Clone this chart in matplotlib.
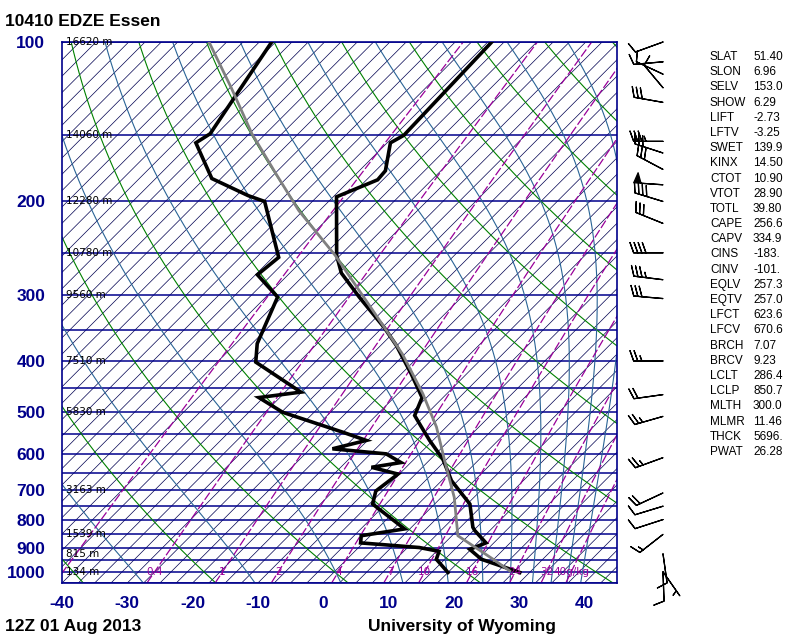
import numpy as np
import matplotlib
matplotlib.use('Agg')
import matplotlib.pyplot as plt
from matplotlib.ticker import NullLocator
import matplotlib.transforms as mtransforms

plt.rcParams['font.family'] = 'DejaVu Sans'

# --- sounding data (hPa, degC) ---
temp_p = [1003, 947, 907, 882, 836, 824, 745, 673, 613, 565, 533, 507, 469, 423,
          374, 346, 303, 273, 253, 196, 182, 175, 155, 150, 100]
temp_t = [28.5, 20.6, 17.3, 18.8, 15.2, 14.4, 10.4, 4.0, -0.6, -5.5, -8.8, -11.6, -13.2, -18.5,
          -25.1, -29.7, -38.2, -44.6, -48.0, -57.0, -53.3, -53.5, -57.0, -56.1, -56.9]

dew_p = [1003, 947, 915, 900, 882, 855, 830, 745, 704, 673, 654, 635, 622, 599, 586,
         565, 545, 500, 469, 458, 402, 371, 303, 275, 255, 200, 195, 181, 155, 149, 100]
dew_t = [17.5, 13.7, 12.9, 9.3, -0.4, -1.4, 4.2, -4.5, -6.0, -5.5, -5.2, -10.3, -6.5, -10.1, -19.1,
         -15.2, -20.1, -32.3, -38.2, -32.6, -44.1, -46.7, -50.7, -57.2, -56.6, -67.3, -70.7, -78.9,
         -86.8, -86.0, -90.6]

parcel_p = [996, 947, 855, 724, 617, 533, 461, 388, 321, 253, 208, 177, 149, 122, 100]
parcel_t = [26.7, 22.4, 13.4, 7.0, -0.1, -6.5, -13.7, -22.9, -34.1, -48.2, -60.7, -69.9, -79.6,
            -89.8, -100.2]

# wind barbs: pressure (hPa), direction (deg from), speed (kt)
wind_p = [100, 109, 115, 122, 130, 154, 162, 174, 186, 200, 220, 250, 281, 305,
          400, 463, 509, 609, 710, 752, 797, 850, 925, 1000, 1000]
wind_dir = [250, 265, 295, 320, 280, 270, 288, 298, 274, 287, 292, 270, 277, 275,
            270, 262, 254, 250, 245, 253, 252, 232, 172, 178, 145]
wind_spd = [10, 10, 10, 10, 30, 35, 30, 30, 50, 40, 30, 40, 35, 30,
            25, 20, 25, 25, 20, 10, 10, 15, 10, 10, 5]

# height labels on the isobars
hgt_p = [100, 150, 200, 250, 300, 400, 500, 700, 850, 925, 1000]
hgt_txt = ['16620 m', '14060 m', '12280 m', '10780 m', '9560 m', '7510 m', '5830 m',
           '3163 m', '1539 m', '815 m', '134 m']

# sounding indices
idx_names = ['SLAT', 'SLON', 'SELV', 'SHOW', 'LIFT', 'LFTV', 'SWET', 'KINX', 'CTOT', 'VTOT',
             'TOTL', 'CAPE', 'CAPV', 'CINS', 'CINV', 'EQLV', 'EQTV', 'LFCT', 'LFCV', 'BRCH',
             'BRCV', 'LCLT', 'LCLP', 'MLTH', 'MLMR', 'THCK', 'PWAT']
idx_vals = ['51.40', '6.96', '153.0', '6.29', '-2.73', '-3.25', '139.9', '14.50', '10.90', '28.90',
            '39.80', '256.6', '334.9', '-183.', '-101.', '257.3', '257.0', '623.6', '670.6', '7.07',
            '9.23', '286.4', '850.7', '300.0', '11.46', '5696.', '26.28']

# background line sets
mix_ratios = [0.1, 0.4, 1, 2, 4, 7, 10, 16, 24, 32, 40]
mix_labels = {0.4: '0.4', 1: '1', 2: '2', 4: '4', 7: '7', 10: '10', 16: '16', 24: '24',
              32: '32', 40: '40g/kg'}
theta_list = np.arange(-40, 261, 20) + 273.15          # dry adiabats (K)
thetae_list = np.arange(243.15, 444, 20)                # moist adiabats (K)
p_levels = [100, 200, 300, 400, 500, 600, 700, 800, 900, 1000]
x_ticks = [-40, -30, -20, -10, 0, 10, 20, 30, 40]

P_BOT, P_TOP = 1050, 100
SKEW = 81.0
NAVY = '#00008B'


def skew_x(t, p):
    return np.asarray(t) + SKEW * np.log10(P_BOT / np.asarray(p, dtype=float))


def sat_vp(t):
    return 6.112 * np.exp(17.67 * t / (t + 243.5))


def moist_temp(thetae, p):
    lo = np.full_like(p, -160.0)
    hi = np.full_like(p, 45.0)
    for _ in range(60):
        mid = 0.5 * (lo + hi)
        es = sat_vp(mid)
        ws = 0.622 * es / np.maximum(p - es, 1e-3)
        tk = mid + 273.15
        f = tk * (1000.0 / p) ** 0.2857 * np.exp(2.5e6 * ws / (1005.0 * tk)) - thetae
        hi = np.where(f > 0, mid, hi)
        lo = np.where(f > 0, lo, mid)
    return 0.5 * (lo + hi)


fig = plt.figure(figsize=(8, 6.4), dpi=100)
ax = fig.add_axes([62 / 800, 1 - 583 / 640, 555 / 800, 541 / 640])
ax.set_yscale('log')
ax.set_ylim(P_BOT, P_TOP)
ax.set_xlim(-40, 45)

pp = np.logspace(np.log10(P_BOT), np.log10(P_TOP), 200)

# isotherms
for t in np.arange(-200, 46, 2.5):
    ax.plot(skew_x([t, t], [P_BOT, P_TOP]), [P_BOT, P_TOP], color='#000050', lw=0.5, zorder=1)

# isobars
for p in range(100, 1051, 50):
    ax.axhline(p, color=NAVY, lw=1.1, zorder=2)

# dry adiabats
for th in theta_list:
    tt = th * (pp / 1000.0) ** 0.2857 - 273.15
    ax.plot(skew_x(tt, pp), pp, color='#008000', lw=0.8, zorder=2)

# moist adiabats
for the in thetae_list:
    tt = moist_temp(the, pp)
    ax.plot(skew_x(tt, pp), pp, color='#2a6496', lw=0.8, zorder=2)

# mixing ratio lines
for w in mix_ratios:
    e = w * pp / (622.0 + w)
    lg = np.log(e / 6.112)
    td = 243.5 * lg / (17.67 - lg)
    ax.plot(skew_x(td, pp), pp, color='#990099', lw=0.9, ls=(0, (7, 2)), zorder=2)
    if w in mix_labels:
        e0 = w * 1000.0 / (622.0 + w)
        l0 = np.log(e0 / 6.112)
        td0 = 243.5 * l0 / (17.67 - l0)
        ax.text(skew_x(td0, 1000.0), 1000, mix_labels[w], color='#990099', fontsize=7.5,
                ha='center', va='center', zorder=7)

# sounding
ax.plot(skew_x(dew_t, dew_p), dew_p, color='black', lw=2.6, zorder=5, solid_joinstyle='miter')
ax.plot(skew_x(temp_t, temp_p), temp_p, color='black', lw=2.6, zorder=5, solid_joinstyle='miter')
ax.plot(skew_x(parcel_t, parcel_p), parcel_p, color='#808080', lw=2.0, zorder=6)

# height labels
trans = mtransforms.blended_transform_factory(ax.transAxes, ax.transData)
for p, s in zip(hgt_p, hgt_txt):
    ax.text(4 / 555, p, s, transform=trans, fontsize=7.5, ha='left', va='center', zorder=4)

for sp in ax.spines.values():
    sp.set_color(NAVY)
    sp.set_linewidth(1.2)
ax.yaxis.set_minor_locator(NullLocator())
ax.set_yticks(p_levels)
ax.set_yticklabels([str(p) for p in p_levels])
ax.set_xticks(x_ticks)
ax.set_xticklabels([str(t) for t in x_ticks])
ax.tick_params(length=0, labelcolor=NAVY, labelsize=12.5)
ax.tick_params(axis='y', pad=12)
ax.tick_params(axis='x', pad=9)
for lab in ax.get_xticklabels() + ax.get_yticklabels():
    lab.set_family('Liberation Sans')
    lab.set_weight('bold')

# wind barbs
axb = fig.add_axes([620 / 800, 1 - 583 / 640, 100 / 800, 541 / 640])
axb.set_yscale('log')
axb.set_ylim(P_BOT, P_TOP)
axb.set_xlim(0, 100)
axb.axis('off')
wd = np.deg2rad(wind_dir)
u = -np.array(wind_spd) * np.sin(wd)
v = -np.array(wind_spd) * np.cos(wd)
axb.barbs(np.full(len(wind_p), 43.0), wind_p, u, v, length=6.5, lw=0.9, color='black',
          clip_on=False, sizes=dict(height=0.35, spacing=0.14))

# titles and table
fig.text(5 / 800, 1 - 22 / 640, '10410 EDZE Essen', fontsize=12.5, weight='bold',
         family='Liberation Sans', va='center')
fig.text(5 / 800, 1 - 627 / 640, '12Z 01 Aug 2013', fontsize=12.5, weight='bold',
         family='Liberation Sans', va='center')
fig.text(368 / 800, 1 - 627 / 640, 'University of Wyoming', fontsize=12.5, weight='bold',
         family='Liberation Sans', va='center')
for i, (n, val) in enumerate(zip(idx_names, idx_vals)):
    y = 1 - (57 + i * 15.19) / 640
    fig.text(710 / 800, y, n, fontsize=8.5, family='Liberation Sans', va='center')
    fig.text(753 / 800, y, val, fontsize=8.5, family='Liberation Sans', va='center')

fig.savefig('out.png', dpi=100)
